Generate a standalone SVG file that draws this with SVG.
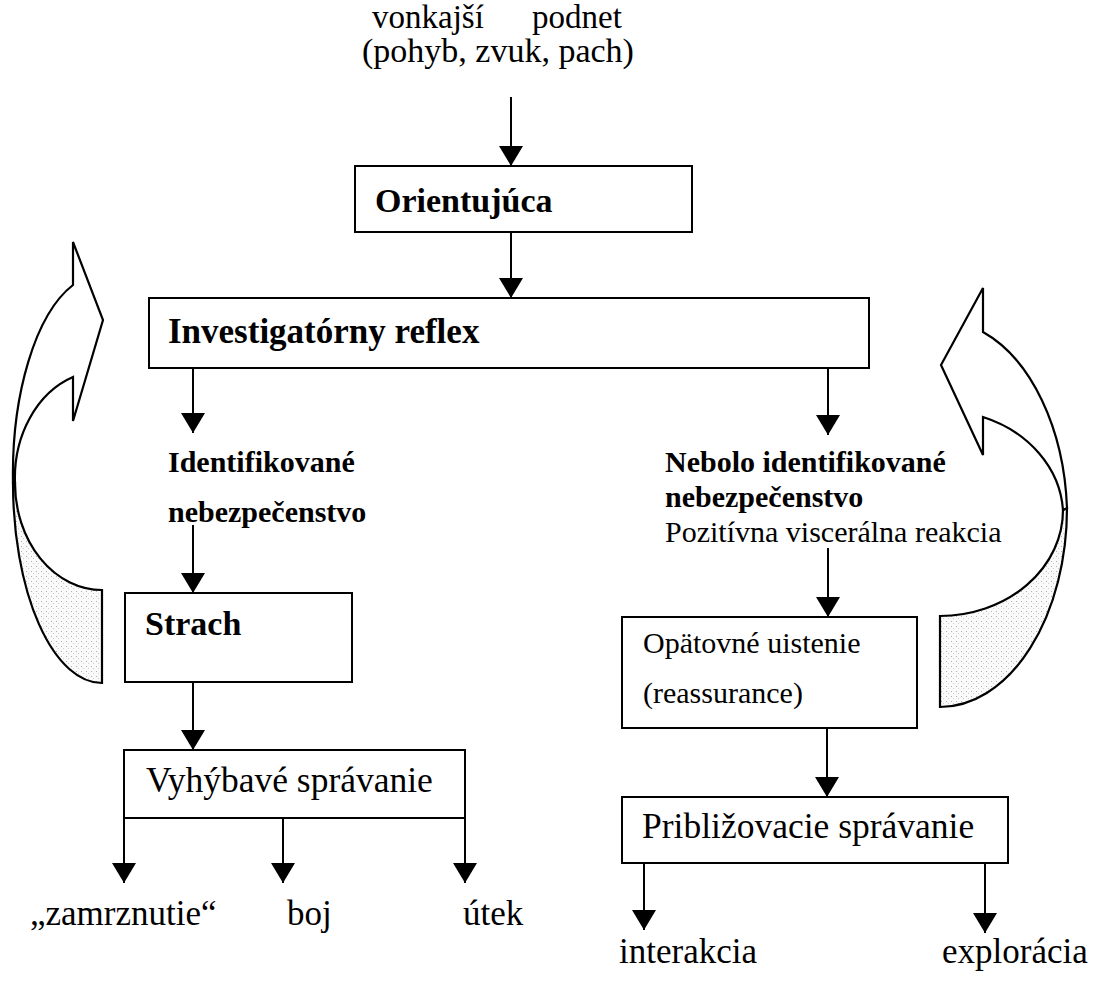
<svg xmlns="http://www.w3.org/2000/svg" width="1094" height="981" viewBox="0 0 1094 981">
<style>
.box{fill:#fff;stroke:#000;stroke-width:2}
.t{font-family:"Liberation Serif","Times New Roman",serif;fill:#000}
.b{font-weight:bold}
.con{stroke:#000;stroke-width:2;fill:none;marker-end:url(#ah)}
.curve{stroke:#000;stroke-width:2.2;stroke-linejoin:miter}
</style>
<defs>
<marker id="ah" viewBox="0 0 20 24" refX="20" refY="12" markerWidth="20" markerHeight="24" markerUnits="userSpaceOnUse" orient="auto">
<path d="M0,0 L20,12 L0,24 Z" fill="#000"/>
</marker>
<pattern id="dots" width="5" height="5" patternUnits="userSpaceOnUse">
<rect width="5" height="5" fill="#fafafa"/>
<rect x="1" y="1" width="1" height="1" fill="#b0b0b0"/>
<rect x="3" y="3" width="1" height="1" fill="#cfcfcf"/>
</pattern>
</defs>
<rect width="1094" height="981" fill="#fff"/>

<g id="stimulus">
<text class="t" x="372" y="28" font-size="33">vonkajší</text>
<text class="t" x="532" y="28" font-size="33">podnet</text>
<text class="t" x="362" y="62" font-size="34">(pohyb, zvuk, pach)</text>
</g>

<g id="loop-left">
<path class="curve" fill="url(#dots)" d="M13,483 A89,200 0 0 0 102,683 L102,590 A87,107 0 0 1 15,483 Z"/>
<path class="curve" fill="#fff" d="M73,285 L73,242 L103,320 L73,421 L73,377 A87,107 0 0 0 15,483 L13,483 A89,200 0 0 1 73,285 Z"/>
</g>

<g id="loop-right">
<path class="curve" fill="url(#dots)" d="M1067,508 A127,199 0 0 1 940,707 L940,616 A123,106 0 0 0 1063,510 Z"/>
<path class="curve" fill="#fff" d="M983,332 L983,288 L941,365 L983,455 L983,417 A123,106 0 0 1 1063,510 L1067,508 A127,199 0 0 0 983,332 Z"/>
</g>

<g id="orientujuca">
<rect class="box" x="355" y="166" width="337" height="66"/>
<text class="t b" x="375" y="212" font-size="34">Orientujúca</text>
</g>

<g id="investigatorny">
<rect class="box" x="149" y="298" width="720" height="70"/>
<text class="t b" x="168" y="343" font-size="35">Investigatórny reflex</text>
</g>

<g id="identifikovane">
<text class="t b" x="168" y="472" font-size="30">Identifikované</text>
<text class="t b" x="168" y="522" font-size="30">nebezpečenstvo</text>
</g>

<g id="strach">
<rect class="box" x="125" y="593" width="227" height="89"/>
<text class="t b" x="145" y="635" font-size="34">Strach</text>
</g>

<g id="vyhybave">
<rect class="box" x="124" y="750" width="341" height="68"/>
<text class="t" x="146" y="792" font-size="35.5">Vyhýbavé správanie</text>
</g>

<g id="outcomes-left">
<text class="t" x="30" y="925" font-size="35">„zamrznutie“</text>
<text class="t" x="287" y="925" font-size="35">boj</text>
<text class="t" x="463" y="925" font-size="35">útek</text>
</g>

<g id="nebolo">
<text class="t b" x="665" y="472" font-size="30">Nebolo identifikované</text>
<text class="t b" x="665" y="507" font-size="30">nebezpečenstvo</text>
<text class="t" x="665" y="542" font-size="30">Pozitívna viscerálna reakcia</text>
</g>

<g id="opatovne">
<rect class="box" x="622" y="617" width="295" height="111"/>
<text class="t" x="643" y="653" font-size="30">Opätovné uistenie</text>
<text class="t" x="643" y="703" font-size="30">(reassurance)</text>
</g>

<g id="priblizovacie">
<rect class="box" x="622" y="797" width="386" height="66"/>
<text class="t" x="642" y="838" font-size="35.5">Približovacie správanie</text>
</g>

<g id="outcomes-right">
<text class="t" x="619" y="963" font-size="35">interakcia</text>
<text class="t" x="942" y="963" font-size="35">explorácia</text>
</g>

<g id="connectors">
<line class="con" x1="511" y1="97" x2="511" y2="166"/>
<line class="con" x1="511" y1="232" x2="511" y2="298"/>
<line class="con" x1="193" y1="368" x2="193" y2="433"/>
<line class="con" x1="828" y1="368" x2="828" y2="435"/>
<line class="con" x1="193" y1="525" x2="193" y2="593"/>
<line class="con" x1="193" y1="682" x2="193" y2="750"/>
<line class="con" x1="124" y1="818" x2="124" y2="883"/>
<line class="con" x1="283" y1="818" x2="283" y2="883"/>
<line class="con" x1="465" y1="818" x2="465" y2="883"/>
<line class="con" x1="828" y1="548" x2="828" y2="617"/>
<line class="con" x1="827" y1="728" x2="827" y2="797"/>
<line class="con" x1="644" y1="863" x2="644" y2="930"/>
<line class="con" x1="985" y1="863" x2="985" y2="933"/>
</g>
</svg>
